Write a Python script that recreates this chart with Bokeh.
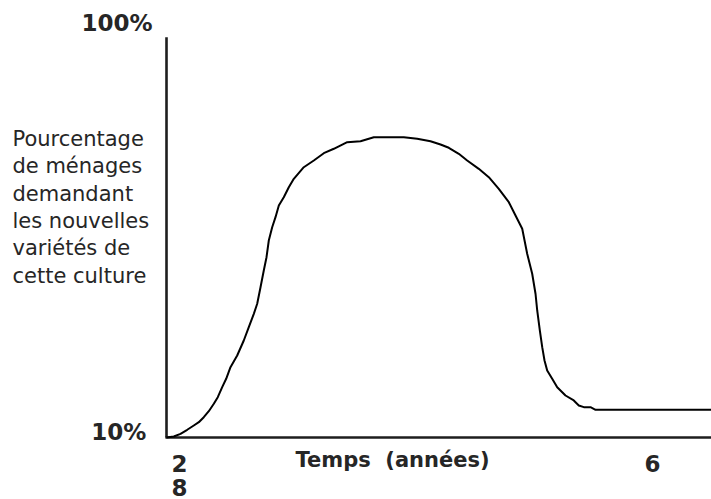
from bokeh.plotting import figure
from bokeh.models import Range1d
from bokeh.core.properties import value
from bokeh.embed import file_html
from bokeh.resources import INLINE

# ---- data (time in arbitrary units 0..100, share of households in %) ----
time = [0, 1.34, 2.57, 3.80, 5.01, 5.93, 6.84, 7.76, 8.68, 9.41, 10.22, 10.95,
        11.74, 12.97, 14.18, 15.10, 16.02, 16.64, 17.25, 17.85, 18.35, 18.77,
        19.39, 20.00, 20.61, 21.52, 22.44, 23.36, 25.19, 27.03, 28.86, 30.70,
        33.16, 35.60, 38.04, 43.54, 46.0, 48.44, 50.28, 51.80, 53.63, 55.17,
        57.30, 59.14, 60.97, 62.81, 64.04, 65.27, 66.18, 67.10, 67.71, 68.02,
        68.50, 68.94, 69.36, 69.85, 70.77, 71.69, 73.21, 74.73, 75.65, 76.57,
        77.80, 78.72, 100]
share = [10.0, 10.23, 10.83, 11.74, 12.71, 13.45, 14.58, 15.93, 17.60, 19.09,
         21.35, 23.24, 25.86, 28.50, 31.88, 34.88, 37.90, 40.16, 43.90, 47.67,
         50.67, 54.44, 57.44, 59.70, 62.33, 64.21, 66.46, 68.36, 70.97, 72.49,
         74.13, 75.13, 76.61, 76.84, 77.74, 77.74, 77.38, 76.84, 76.10, 75.35,
         74.0, 72.49, 70.61, 68.72, 66.10, 63.08, 60.08, 57.08, 51.44, 46.93,
         42.42, 38.65, 34.14, 30.37, 27.37, 25.11, 23.24, 21.35, 19.47, 18.35,
         17.22, 16.84, 16.84, 16.25, 16.25]

y_min_label = "10%"
y_max_label = "100%"
x_tick_labels = ["2", "8", "6"]
x_title = "Temps\u00a0\u00a0(années)"
y_title_lines = ["Pourcentage", "de ménages", "demandant", "les nouvelles",
                 "variétés de", "cette culture"]

p = figure(width=711, height=499, output_backend="svg", toolbar_location=None,
           x_range=Range1d(-30.46, 100), y_range=Range1d(-3.99, 108.58),
           min_border=0, x_axis_location=None, y_axis_location=None)
p.grid.visible = False
p.outline_line_color = None
p.background_fill_color = "white"
p.border_fill_color = "white"

# axis lines
p.segment(x0=[0, -0.2], y0=[10, 10], x1=[0, 100], y1=[100.3, 10],
          line_width=2.6, line_color="#1e1e1e")

# curve
p.line(time, share, line_width=2, line_color="black", line_join="round")

txt = "#262626"
bold_font = value("DejaVu Sans")
# percent labels
p.text(x=[-15.6], y=[103.6], text=[y_max_label], text_font=bold_font,
       text_font_style="bold", text_font_size="23px", text_color=txt,
       text_baseline="alphabetic", text_align="left")
p.text(x=[-13.8], y=[11.35], text=[y_min_label], text_font=bold_font,
       text_font_style="bold", text_font_size="23px", text_color=txt,
       text_baseline="alphabetic", text_align="left")

# x tick-like labels
p.text(x=[0.9, 0.9, 87.7], y=[4.2, -1.2, 4.2], text=x_tick_labels,
       text_font=bold_font, text_font_style="bold", text_font_size="23px",
       text_color=txt, text_baseline="alphabetic", text_align="left")

# x title
p.text(x=[23.67], y=[4.9], text=[x_title], text_font=bold_font,
       text_font_style="bold", text_font_size="21px", text_color=txt,
       text_baseline="alphabetic", text_align="left")

# y title (multi-line, left aligned)
step = 27.3 / 4.433
ys = [77.3 - i * step for i in range(len(y_title_lines))]
p.text(x=[-28.26] * len(y_title_lines), y=ys, text=y_title_lines,
       text_font=value("DejaVu Sans"), text_font_size="21px", text_color=txt,
       text_baseline="alphabetic", text_align="left")

open("out.html", "w").write(file_html(p, INLINE))
